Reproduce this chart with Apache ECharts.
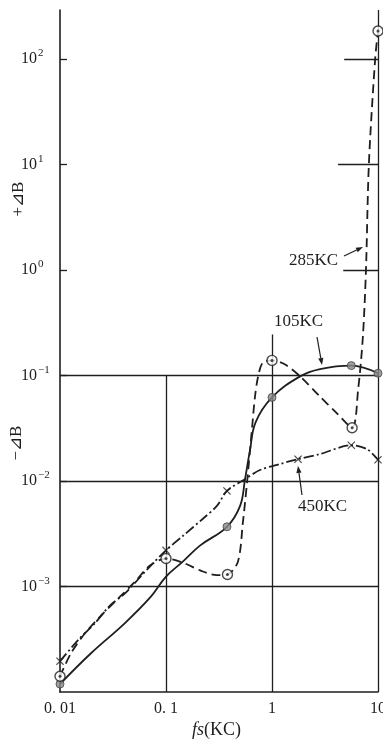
<!DOCTYPE html>
<html><head><meta charset="utf-8">
<script src="https://cdn.jsdelivr.net/npm/echarts@6/dist/echarts.min.js"></script>
<style>html,body{margin:0;padding:0;background:#fff;overflow:hidden;width:383px;height:739px}#c{width:383px;height:739px}</style>
</head><body><div id="c"></div>
<script>
// ---- axis ticks ----
const xTickValues = [0.01, 0.1, 1, 10];
const xTickLabels = ['0. 01', '0. 1', '1', '10'];
const yTickExponents = [2, 1, 0, -1, -2, -3];

// ---- 285KC (dashed, open circle with dot) ----
const kc285MarkX = [0.01, 0.1, 0.38, 1, 5.7, 10];
const kc285MarkY = [1.41e-4, 1.84e-3, 1.3e-3, 0.139, 0.032, 184];
const kc285CurveX = [0.01, 0.0127, 0.0172, 0.0244, 0.0368, 0.051, 0.0705, 0.1, 0.151, 0.21, 0.3, 0.38, 0.477, 0.532, 0.581, 0.647, 0.691, 0.74, 0.82, 1, 1.33, 1.84, 2.84, 3.93, 5.7, 6.5, 7.2, 7.7, 8.2, 9.4, 10];
const kc285CurveY = [1.41e-4, 2.33e-4, 3.6e-4, 5.3e-4, 8.0e-4, 1.11e-3, 1.58e-3, 1.84e-3, 1.65e-3, 1.42e-3, 1.28e-3, 1.3e-3, 1.72e-3, 4.1e-3, 9.6e-3, 0.031, 0.063, 0.098, 0.133, 0.139, 0.127, 0.098, 0.063, 0.0457, 0.032, 0.074, 0.233, 1, 10, 100, 184];

// ---- 105KC (solid, filled dot) ----
const kc105MarkX = [0.01, 0.376, 1, 5.6, 10];
const kc105MarkY = [1.19e-4, 3.68e-3, 0.062, 0.124, 0.105];
const kc105CurveX = [0.01, 0.0196, 0.041, 0.072, 0.1, 0.144, 0.209, 0.376, 0.5, 0.556, 0.62, 0.7, 1, 1.84, 2.84, 5.6, 10];
const kc105CurveY = [1.19e-4, 2.33e-4, 4.5e-4, 8.0e-4, 1.24e-3, 1.72e-3, 2.44e-3, 3.68e-3, 5.8e-3, 0.0103, 0.0196, 0.036, 0.062, 0.098, 0.115, 0.124, 0.105];

// ---- 450KC (dash-dot, cross) ----
const kc450MarkX = [0.01, 0.1, 0.376, 1.76, 5.6, 10];
const kc450MarkY = [1.96e-4, 2.2e-3, 8.05e-3, 0.0161, 0.0218, 0.0159];
const kc450CurveX = [0.01, 0.0148, 0.0214, 0.0296, 0.041, 0.0676, 0.1, 0.145, 0.223, 0.302, 0.376, 0.556, 0.77, 1.19, 1.76, 2.84, 5.6, 7.9, 10];
const kc450CurveY = [1.96e-4, 3.1e-4, 4.5e-4, 6.6e-4, 8.6e-4, 1.48e-3, 2.2e-3, 3.03e-3, 4.39e-3, 5.8e-3, 8.05e-3, 0.0104, 0.0127, 0.0145, 0.0161, 0.018, 0.0218, 0.020, 0.0159];

// ---- reference lines (data coords) ----
const fullGridY = [0.1, 0.01, 0.001];
const stubGridY = [1, 10, 100];
const stubGridFromX = [4.7, 4.2, 4.8];
const vertGridX = [0.1, 1, 10];
const vertGridTopY = [0.1, 0.244, 291];

const Y_MIN = 1e-4, Y_MAX = 291, X_MIN = 0.01, X_MAX = 10;
const INK = '#1e1e1e';
const SERIF = '"Liberation Serif","DejaVu Serif",serif';

const zip = (xs, ys) => xs.map((x, i) => [x, ys[i]]);
const supMap = {'-': '\u2212'};
function expText(e) { return String(e).split('').map(c => supMap[c] || c).join(''); }

const markLines = [];
fullGridY.forEach(y => markLines.push([{coord: [X_MIN, y]}, {coord: [X_MAX, y]}]));
stubGridY.forEach((y, i) => markLines.push([{coord: [stubGridFromX[i], y]}, {coord: [X_MAX, y]}]));
vertGridX.forEach((x, i) => markLines.push([{coord: [x, Y_MIN]}, {coord: [x, vertGridTopY[i]]}]));

const crossPath = 'path://M0,1 L1,0 L5,4 L9,0 L10,1 L6,5 L10,9 L9,10 L5,6 L1,10 L0,9 L4,5 Z';

function arrow(x1, y1, x2, y2) {
  const a = Math.atan2(y2 - y1, x2 - x1), L = 7, W = 2.6;
  const bx = x2 - L * Math.cos(a), by = y2 - L * Math.sin(a);
  return [
    {type: 'polyline', silent: true, shape: {points: [[x1, y1], [bx, by]]}, style: {stroke: INK, lineWidth: 1.2, fill: null}},
    {type: 'polygon', silent: true, shape: {points: [[x2, y2], [bx + W * Math.sin(a), by - W * Math.cos(a)], [bx - W * Math.sin(a), by + W * Math.cos(a)]]}, style: {fill: INK}}
  ];
}
function txt(x, y, s, size, align, rot, style) {
  return {type: 'text', silent: true, x: x, y: y, rotation: rot || 0,
    style: {text: s, font: (style || 'normal') + ' ' + size + 'px ' + SERIF, fill: INK,
      align: align || 'left', verticalAlign: 'middle', textAlign: align || 'left', textVerticalAlign: 'middle'}};
}

const chart = echarts.init(document.getElementById('c'), null, {renderer: 'canvas', width: 383, height: 739});
chart.setOption({
  animation: false,
  backgroundColor: '#fff',
  grid: {left: 60, right: 5, top: 10, bottom: 47, containLabel: false, outerBoundsMode: 'none'},
  xAxis: {
    type: 'log', logBase: 10, min: X_MIN, max: X_MAX,
    axisLine: {show: true, lineStyle: {color: INK, width: 1.6}},
    axisTick: {show: false},
    splitLine: {show: false},
    axisLabel: {
      margin: 9, color: INK, fontFamily: SERIF, fontSize: 16,
      showMinLabel: true, showMaxLabel: true, hideOverlap: false,
      formatter: v => {
        const i = xTickValues.findIndex(t => Math.abs(Math.log10(t) - Math.log10(v)) < 1e-6);
        return i >= 0 ? xTickLabels[i] : '';
      }
    }
  },
  yAxis: {
    type: 'log', logBase: 10, min: Y_MIN, max: Y_MAX,
    axisLine: {show: true, lineStyle: {color: INK, width: 1.6}},
    axisTick: {show: true, inside: true, length: 7, lineStyle: {color: INK, width: 1.3}},
    splitLine: {show: false},
    axisLabel: {
      align: 'left', margin: 39, color: INK,
      showMinLabel: false, showMaxLabel: false,
      formatter: v => {
        const l = Math.log10(v), e = Math.round(l);
        if (Math.abs(l - e) > 1e-6 || yTickExponents.indexOf(e) < 0) return '';
        return '{b|10}{s|' + expText(e) + '}';
      },
      rich: {
        b: {fontFamily: SERIF, fontSize: 16, color: INK, lineHeight: 22},
        s: {fontFamily: SERIF, fontSize: 11, color: INK, verticalAlign: 'top', lineHeight: 12, padding: [0, 0, 0, 1]}
      }
    }
  },
  series: [
    {
      name: 'grid', type: 'line', data: [], silent: true,
      markLine: {silent: true, symbol: ['none', 'none'], label: {show: false}, animation: false,
        lineStyle: {color: INK, width: 1.3, type: 'solid'}, data: markLines}
    },
    {name: '105KC', type: 'line', data: zip(kc105CurveX, kc105CurveY), smooth: 0.4, showSymbol: false, silent: true,
      lineStyle: {color: INK, width: 1.8, type: 'solid'}},
    {name: '285KC', type: 'line', data: zip(kc285CurveX, kc285CurveY), smooth: 0.3, showSymbol: false, silent: true,
      lineStyle: {color: INK, width: 1.8, type: [9, 5]}},
    {name: '450KC', type: 'line', data: zip(kc450CurveX, kc450CurveY), smooth: 0.3, showSymbol: false, silent: true,
      lineStyle: {color: INK, width: 1.8, type: [10, 3, 2, 3]}},
    {name: '105KC pts', type: 'scatter', data: zip(kc105MarkX, kc105MarkY), symbol: 'circle', symbolSize: 8, z: 5,
      itemStyle: {color: '#8a8a8a', borderColor: '#444', borderWidth: 1}},
    {name: '285KC pts', type: 'scatter', data: zip(kc285MarkX, kc285MarkY), symbol: 'circle', symbolSize: 10, z: 5,
      itemStyle: {color: '#fff', borderColor: INK, borderWidth: 1.4}},
    {name: '285KC dots', type: 'scatter', data: zip(kc285MarkX, kc285MarkY), symbol: 'circle', symbolSize: 3, z: 6,
      itemStyle: {color: INK}},
    {name: '450KC pts', type: 'scatter', data: zip(kc450MarkX, kc450MarkY), symbol: crossPath, symbolSize: 8, z: 5,
      itemStyle: {color: INK}}
  ],
  graphic: [
    txt(19, 199, '+\u22BFB', 17, 'center', Math.PI / 2),
    txt(17, 443, '\u2212\u22BFB', 17, 'center', Math.PI / 2),
    txt(204, 730, 'fs', 18, 'right', 0, 'italic'),
    txt(204, 730, '(KC)', 18, 'left', 0),
    txt(289, 261, '285KC', 17, 'left', 0),
    txt(274, 322, '105KC', 17, 'left', 0),
    txt(298, 507, '450KC', 17, 'left', 0),
    ...arrow(344, 256, 363, 247),
    ...arrow(317, 337, 322, 365),
    ...arrow(302, 495, 298, 466)
  ]
});
</script></body></html>
